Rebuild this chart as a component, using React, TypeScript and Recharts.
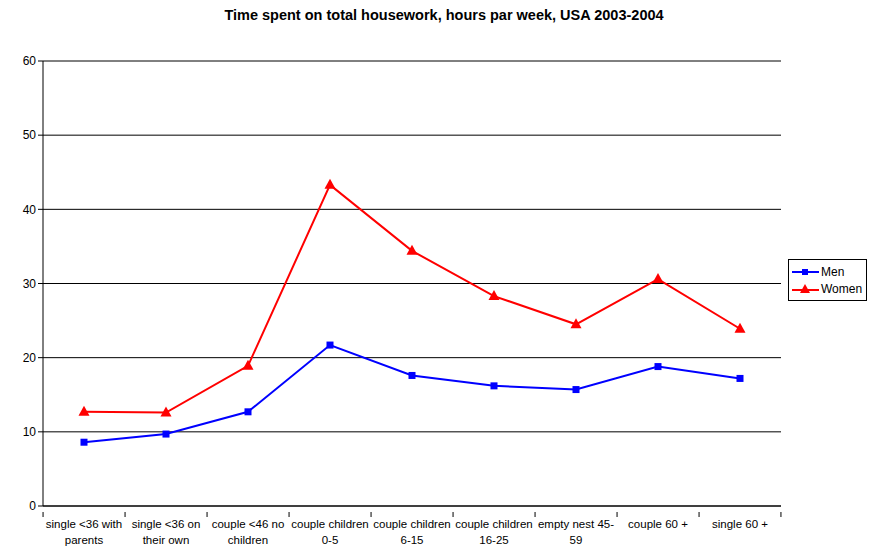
import { CartesianGrid, Line, LineChart, XAxis, YAxis } from 'recharts';

const categories = [
  ['single <36 with', 'parents'],
  ['single <36 on', 'their own'],
  ['couple <46 no', 'children'],
  ['couple children', '0-5'],
  ['couple children', '6-15'],
  ['couple children', '16-25'],
  ['empty nest 45-', '59'],
  ['couple 60 +'],
  ['single 60 +']
];

const men = [8.6, 9.7, 12.7, 21.7, 17.6, 16.2, 15.7, 18.8, 17.2];
const women = [12.7, 12.6, 18.9, 43.3, 34.4, 28.3, 24.5, 30.6, 23.9];

const yTicks = [0, 10, 20, 30, 40, 50, 60];

const data = categories.map((c, i) => ({
  name: c.join(' '),
  lines: c,
  men: men[i],
  women: women[i]
}));

const FONT = 'Arial, "Liberation Sans", sans-serif';
const PLOT_W = 737;
const STEP = PLOT_W / categories.length;

const SquareDot = (props: any) => {
  const { cx, cy } = props;
  if (cx == null || cy == null) return null;
  return <rect x={cx - 3.5} y={cy - 3.5} width={7} height={7} fill='#0000ff' />;
};

const TriangleDot = (props: any) => {
  const { cx, cy } = props;
  if (cx == null || cy == null) return null;
  return <polygon points={`${cx},${cy - 6} ${cx - 5.5},${cy + 4} ${cx + 5.5},${cy + 4}`} fill='#ff0000' />;
};

const XTick = (props: any) => {
  const { x, y, payload, index } = props;
  const lines: string[] = data[index]?.lines ?? [String(payload.value)];
  const left = x - STEP / 2;
  return (
    <g>
      <line x1={left} x2={left} y1={y - 2} y2={y + 3} stroke='#000' />
      {index === categories.length - 1 && (
        <line x1={x + STEP / 2} x2={x + STEP / 2} y1={y - 2} y2={y + 3} stroke='#000' />
      )}
      <text x={x} y={y + 14} textAnchor='middle' fontSize={11.5} fill='#000' fontFamily={FONT}>
        {lines.map((l, i) => (
          <tspan key={i} x={x} dy={i === 0 ? 0 : 16}>
            {l}
          </tspan>
        ))}
      </text>
    </g>
  );
};

const LegendBox = () => (
  <div
    style={{
      position: 'absolute',
      left: 788,
      top: 259,
      border: '1px solid #000',
      background: '#fff',
      fontFamily: FONT,
      fontSize: 12,
      padding: '3px 3px',
      width: 79,
      boxSizing: 'border-box'
    }}>
    <div style={{ display: 'flex', alignItems: 'center', height: 17 }}>
      <svg width={29} height={10}>
        <line x1={0} x2={27} y1={5} y2={5} stroke='#0000ff' strokeWidth={2} />
        <rect x={10} y={2} width={6} height={6} fill='#0000ff' />
      </svg>
      <span>Men</span>
    </div>
    <div style={{ display: 'flex', alignItems: 'center', height: 17 }}>
      <svg width={29} height={10}>
        <line x1={0} x2={27} y1={6} y2={6} stroke='#ff0000' strokeWidth={2} />
        <polygon points='13,0 8,9 18,9' fill='#ff0000' />
      </svg>
      <span>Women</span>
    </div>
  </div>
);

export default function App() {
  return (
    <div style={{ position: 'absolute', left: 0, top: 0, width: 872, height: 551, background: '#fff' }}>
      <div
        style={{
          position: 'absolute',
          top: 7,
          left: 0,
          width: 888,
          textAlign: 'center',
          fontFamily: FONT,
          fontWeight: 'bold',
          fontSize: 14.5
        }}>
        Time spent on total housework, hours par week, USA 2003-2004
      </div>
      <LineChart width={872} height={551} data={data} margin={{ top: 61, right: 91, left: 0, bottom: 0 }}>
        <CartesianGrid vertical={false} stroke='#000' strokeWidth={1} />
        <XAxis
          dataKey='name'
          scale='band'
          interval={0}
          tickLine={false}
          axisLine={{ stroke: '#000' }}
          tick={<XTick />}
          height={45}
        />
        <YAxis
          domain={[0, 60]}
          ticks={yTicks}
          width={43}
          tickSize={5}
          axisLine={{ stroke: '#000' }}
          tickLine={{ stroke: '#000' }}
          tick={{ fontSize: 12, fill: '#000', fontFamily: FONT }}
        />
        <YAxis
          yAxisId='r'
          orientation='right'
          width={0}
          tick={false}
          tickLine={false}
          axisLine={{ stroke: '#c0c0c0', strokeWidth: 2 }}
        />
        <Line
          dataKey='men'
          name='Men'
          stroke='#0000ff'
          strokeWidth={2}
          dot={<SquareDot />}
          activeDot={false}
          isAnimationActive={false}
        />
        <Line
          dataKey='women'
          name='Women'
          stroke='#ff0000'
          strokeWidth={2}
          dot={<TriangleDot />}
          activeDot={false}
          isAnimationActive={false}
        />
      </LineChart>
      <LegendBox />
    </div>
  );
}
